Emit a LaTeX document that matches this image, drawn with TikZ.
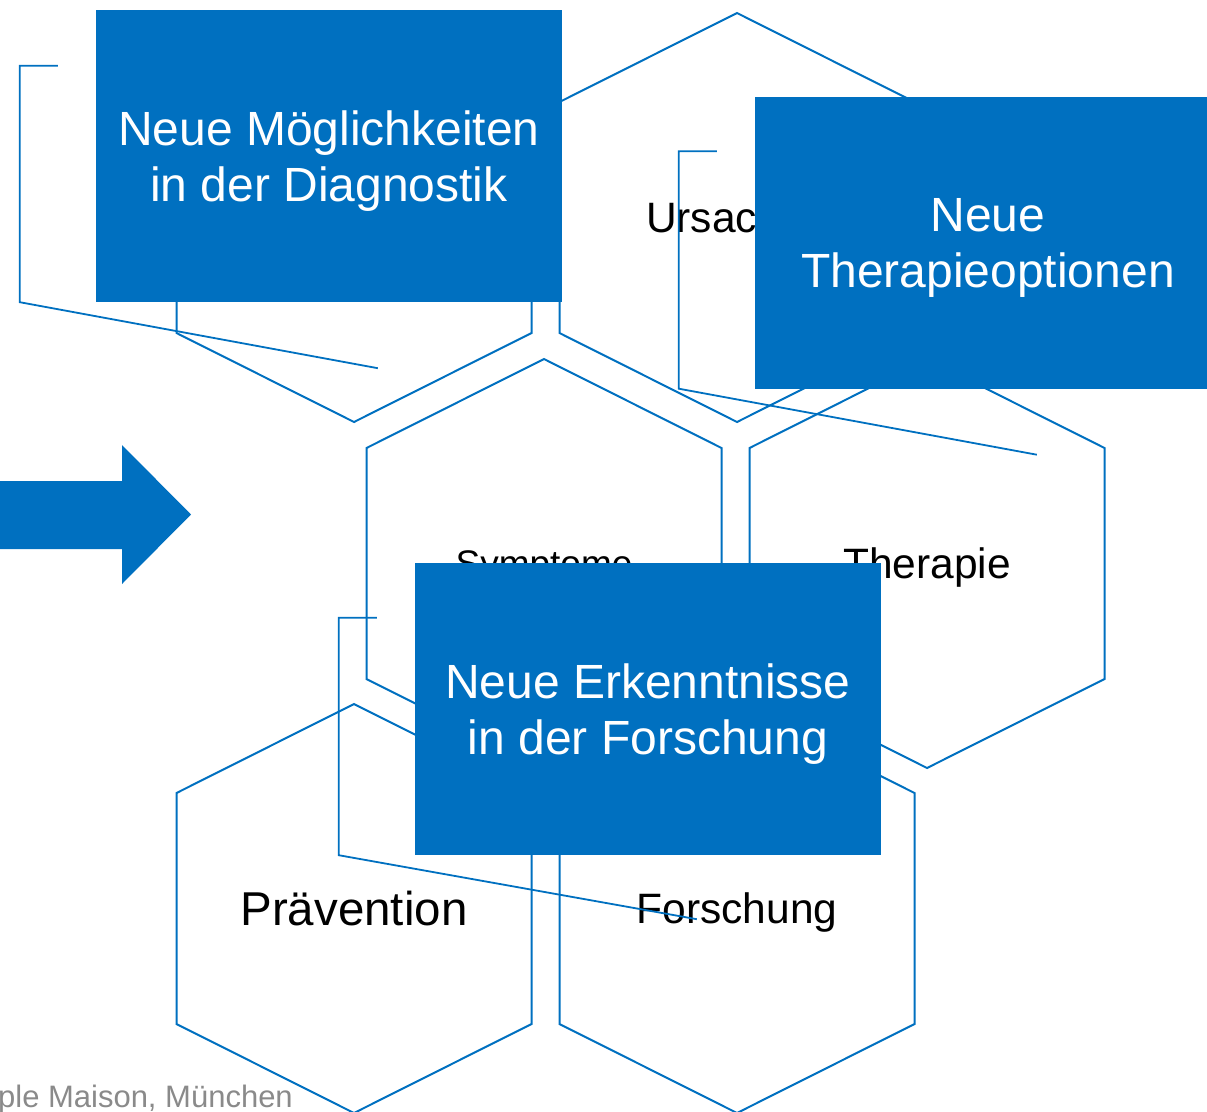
\documentclass[tikz,border=0pt]{standalone}
\usepackage{fontspec}
\setmainfont{Liberation Sans}
\usepackage{tikz}
\usetikzlibrary{positioning,calc}
\definecolor{mblue}{HTML}{0070C0}
\definecolor{footgray}{HTML}{8A8A8A}

\begin{document}
\begin{tikzpicture}[
  x=1pt, y=-1pt,
  hexline/.style={draw=mblue, line width=2pt, line join=miter},
  bracket/.style={draw=mblue, line width=1.8pt},
  box/.style={fill=mblue, minimum width=466pt, minimum height=292pt, inner sep=0pt},
  boxtext/.style={inner sep=0pt, align=center, text=white, font=\fontsize{48}{56}\selectfont},
  hexlabel/.style={anchor=base, inner sep=0pt, font=\fontsize{42.5}{50}\selectfont}
]
\useasboundingbox (0,0) rectangle (1207,1111);

% hexagons
\foreach \cx/\cy in {354/217.5, 737/217.5, 544/563.5, 927/563.5, 354/908.5, 737/908.5}
  \draw[hexline] (\cx,\cy-204.5) -- ++(177.5,89) -- ++(0,231) -- ++(-177.5,89) -- ++(-177.5,-89) -- ++(0,-231) -- cycle;

\node[hexlabel] (ursache) at (737,232) {Ursachen};
\node[hexlabel, font=\fontsize{37}{44}\selectfont] (symptome) at (544,576.5) {Symptome};
\node[hexlabel] (therapie) at (927,578.5) {Therapie};
\node[hexlabel, font=\fontsize{47.5}{56}\selectfont] (praevention) at (354,925.5) {Prävention};
\node[hexlabel] (forschung) at (737,923) {Forschung};

% boxes
\node[box] (diag) at (329,156) {};
\node[box] (thera) at (988,242.5) {};
\node[box] (erkennt) at (648,709) {};
\node[boxtext] (diagtext) at ($(diag.center)+(0,5)$) {Neue Möglichkeiten\\in der Diagnostik};
\node[boxtext] (theratext) at ($(thera.center)+(0,5)$) {Neue\\Therapieoptionen};
\node[boxtext] (erkennttext) at ($(erkennt.center)+(0,5)$) {Neue Erkenntnisse\\in der Forschung};

% brackets
\draw[bracket] ($(diag.north west)+(-38,56)$) -- ++(-38,0) -- ($(diag.south west)+(-76,0)$) -- ($(diag.south west)+(282,66)$);
\draw[bracket] ($(thera.north west)+(-38,55)$) -- ++(-38,0) -- ($(thera.south west)+(-76,0)$) -- ($(thera.south west)+(282,66)$);
\draw[bracket] ($(erkennt.north west)+(-38,55)$) -- ++(-38,0) -- ($(erkennt.south west)+(-76,0)$) -- ($(erkennt.south west)+(282,64)$);

% arrow
\fill[mblue] (-5,481) -- (122,481) -- (122,445) -- (191,514.5) -- (122,584) -- (122,549) -- (-5,549) -- cycle;

\node[anchor=base east, inner sep=0pt, text=footgray, font=\fontsize{31}{37}\selectfont] (fuss) at (293,1107) {ple Maison, München};
\end{tikzpicture}
\end{document}
